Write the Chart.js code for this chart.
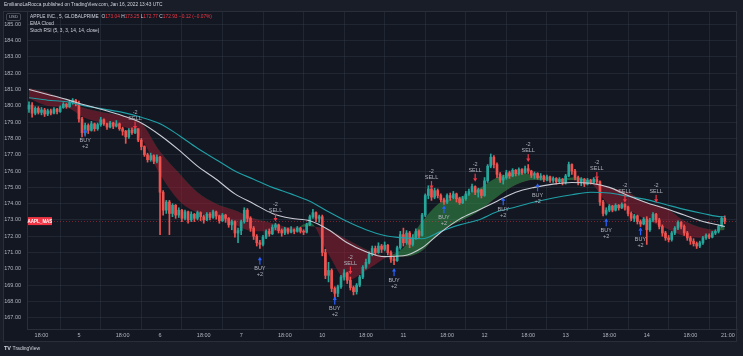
<!DOCTYPE html>
<html><head><meta charset="utf-8">
<script src="https://cdn.jsdelivr.net/npm/chart.js@4.4.1/dist/chart.umd.min.js"></script>
<style>
html,body{margin:0;padding:0;background:#191d28;overflow:hidden;}
#wrap{position:relative;width:743px;height:356px;background:#191d28;}
#frame{position:absolute;left:3px;top:11px;width:734px;height:331px;background:#131722;border:1px solid #2a2e39;box-sizing:border-box;}
canvas{position:absolute;left:0;top:0;}
.t{position:absolute;font-family:"Liberation Sans",Arial,sans-serif;white-space:nowrap;line-height:1;color:#d1d4dc;}
.r{color:#f23645;}
</style></head><body>
<div id="wrap">
<div id="frame"></div>
<canvas id="c" width="743" height="356"></canvas>
<div class="t" style="left:4px;top:3px;font-size:4.8px;">EmilianoLaRocca published on TradingView.com, Jan 16, 2022 13:43 UTC</div>
<div class="t" style="left:6px;top:13px;font-size:4.3px;border:1px solid #434651;padding:1px 2px;border-radius:2px;color:#b2b5be;">USD</div>
<div class="t" style="left:30px;top:15px;font-size:4.8px;">APPLE INC., 5, GLOBALPRIME&nbsp; O<span class="r">173.04</span> H<span class="r">173.25</span> L<span class="r">172.77</span> C<span class="r">172.93</span> <span class="r">−0.12 (−0.07%)</span></div>
<div class="t" style="left:30px;top:22px;font-size:4.8px;">EMA Cloud</div>
<div class="t" style="left:30px;top:29px;font-size:4.8px;">Stoch RSI (5, 3, 3, 14, 14, close)</div>
<div class="t" style="left:4px;top:346px;font-size:5.5px;font-weight:bold;color:#d1d4dc;">TV <span style="font-weight:normal;font-size:5px">TradingView</span></div>
</div>
<script>
// ---- Data (15-minute candles, index 0 = Jan 4 17:00, session 14:30-21:00) ----
const opens = [
179.8,180.05,179.55,179.85,179.6,179.75,179.5,179.7,179.55,179.8,179.65,179.9,180.1,179.95,180.2,180.35,
180.15,179.2,178.35,178.8,178.5,178.9,178.6,178.85,179.15,178.9,178.7,178.95,178.75,178.9,178.6,178.45,178.1,178.5,178.35,178.6,177.9,177.5,177.0,176.7,176.95,176.6,
176.85,174.7,173.6,174.1,173.4,173.9,173.3,173.6,173.1,173.5,173.0,173.35,173.1,173.45,173.2,173.0,173.35,173.15,173.5,173.25,172.95,173.3,173.1,172.7,172.9,172.2,
172.35,172.9,173.6,173.1,172.5,172.0,171.6,171.5,171.95,172.3,172.15,172.55,172.7,172.35,172.2,172.45,172.25,172.4,172.3,172.5,172.3,172.25,172.7,173.2,173.45,173.1,
173.2,171.0,169.6,169.9,168.8,168.5,168.9,169.5,169.75,169.3,168.85,168.6,169.0,169.5,170.1,170.4,170.9,171.25,171.0,171.4,171.2,171.45,171.0,170.6,170.5,171.3,
172.1,171.6,172.2,171.5,171.9,172.3,172.05,173.3,174.5,174.9,174.4,174.8,174.5,174.25,174.1,174.5,174.35,174.6,174.3,174.05,174.3,174.6,174.75,175.05,174.7,174.85,
174.5,175.4,176.3,176.85,176.4,175.8,175.45,175.6,175.9,175.7,176.05,175.85,176.1,175.9,176.15,176.0,175.75,175.85,175.6,175.7,175.5,175.65,175.45,175.55,175.35,175.5,
175.3,175.7,176.4,176.0,175.6,175.3,175.5,175.2,175.45,175.3,175.5,175.35,174.1,173.4,173.6,173.85,173.6,173.9,173.75,173.95,173.8,173.4,173.1,173.25,172.9,172.75,
173.05,172.4,173.0,173.35,173.0,172.6,172.2,171.9,171.8,172.2,172.5,172.85,172.6,172.2,171.9,171.7,171.55,171.4,171.6,171.9,172.05,171.95,172.2,172.3,172.6,173.1
];
const highs = [
180.25,180.2,179.95,179.95,179.9,179.85,179.8,179.8,179.9,179.85,180.0,180.2,180.15,180.3,180.45,180.4,
180.3,179.3,178.95,178.9,179.05,178.95,178.95,179.3,179.2,178.95,179.05,179.0,179.1,178.95,178.7,178.5,178.6,178.65,178.75,178.6,178.0,177.55,177.1,177.1,177.0,177.0,
176.9,174.8,174.2,174.2,174.0,173.95,173.75,173.65,173.6,173.55,173.5,173.4,173.55,173.5,173.3,173.45,173.45,173.6,173.55,173.3,173.4,173.35,173.15,173.0,172.95,172.5,
173.0,173.75,173.7,173.2,172.6,172.1,171.75,172.05,172.4,172.45,172.7,172.8,172.75,172.45,172.55,172.5,172.6,172.45,172.6,172.55,172.4,172.8,173.3,173.65,173.5,173.3,
173.3,171.2,170.4,170.0,168.9,169.0,169.6,169.95,169.8,169.5,168.95,169.1,169.6,170.2,170.6,171.05,171.4,171.4,171.6,171.5,171.65,171.5,171.1,170.75,171.4,172.3,
172.5,172.35,172.3,172.1,172.45,172.4,173.4,174.6,175.1,175.0,174.95,174.9,174.6,174.35,174.6,174.65,174.75,174.65,174.4,174.45,174.75,174.9,175.2,175.1,174.95,174.9,
175.6,176.4,177.05,176.95,176.5,175.9,175.75,176.05,176.0,176.15,176.1,176.2,176.15,176.3,176.4,176.05,175.95,175.9,175.85,175.75,175.75,175.7,175.65,175.6,175.6,175.55,
175.8,176.55,176.45,176.1,175.7,175.6,175.55,175.55,175.5,175.6,175.6,175.4,174.2,173.75,173.95,173.9,174.0,173.95,174.05,174.0,173.85,173.5,173.35,173.3,173.0,173.15,
173.2,173.1,173.45,173.4,173.1,172.7,172.3,172.05,172.3,172.6,172.95,172.9,172.7,172.3,172.0,171.85,171.65,171.7,172.0,172.15,172.15,172.3,172.4,172.7,173.2,173.25
];
const lows = [
179.6,179.3,179.45,179.5,179.45,179.35,179.4,179.45,179.5,179.5,179.6,179.85,179.85,179.9,180.1,180.0,
179.0,178.1,178.2,178.3,178.45,178.45,178.5,178.75,178.8,178.55,178.65,178.6,178.7,178.5,178.2,177.7,178.0,178.25,178.3,177.8,177.3,176.9,176.55,176.6,176.45,176.5,
172.1,173.3,173.4,172.1,173.2,173.1,173.15,172.9,173.0,172.8,172.9,172.9,173.0,172.95,172.8,172.95,173.0,173.1,173.05,172.8,172.9,172.85,172.55,172.4,171.95,171.6,
172.1,172.8,172.9,172.3,171.8,171.4,171.25,171.4,171.85,172.0,172.1,172.4,172.2,172.0,172.1,172.15,172.2,172.15,172.25,172.2,172.1,172.2,172.65,173.1,172.9,172.85,
170.8,169.4,169.2,168.6,168.1,168.3,168.8,169.3,169.1,168.7,168.4,168.45,168.9,169.4,170.0,170.3,170.8,170.85,170.95,171.0,171.1,170.85,170.4,170.25,170.45,171.2,
171.4,171.5,171.3,171.4,171.8,171.9,172.0,173.2,174.3,174.2,174.3,174.35,174.1,173.95,174.0,174.2,174.3,174.1,173.95,174.0,174.2,174.5,174.7,174.55,174.4,174.35,
174.45,175.3,176.2,176.2,175.6,175.3,175.2,175.5,175.55,175.65,175.7,175.75,175.8,175.85,175.85,175.6,175.55,175.5,175.45,175.35,175.4,175.3,175.3,175.2,175.25,175.15,
175.2,175.65,175.8,175.45,175.15,175.1,175.05,175.15,175.2,175.25,175.2,173.9,173.25,173.3,173.5,173.5,173.55,173.6,173.7,173.6,173.25,172.95,172.9,172.75,172.6,172.7,
171.5,172.3,172.9,172.85,172.45,172.0,171.75,171.65,171.7,172.1,172.4,172.45,172.05,171.75,171.5,171.4,171.25,171.3,171.5,171.8,171.85,171.9,172.1,172.2,172.55,172.77
];
const closes = [
180.05,179.55,179.85,179.6,179.75,179.5,179.7,179.55,179.8,179.65,179.9,180.1,179.95,180.2,180.35,180.15,
179.2,178.35,178.8,178.5,178.9,178.6,178.85,179.15,178.9,178.7,178.95,178.75,178.9,178.6,178.45,178.1,178.5,178.35,178.6,177.9,177.5,177.0,176.7,176.95,176.6,176.85,
174.7,173.6,174.1,173.4,173.9,173.3,173.6,173.1,173.5,173.0,173.35,173.1,173.45,173.2,173.0,173.35,173.15,173.5,173.25,172.95,173.3,173.1,172.7,172.9,172.2,172.35,
172.9,173.6,173.1,172.5,172.0,171.6,171.5,171.95,172.3,172.15,172.55,172.7,172.35,172.2,172.45,172.25,172.4,172.3,172.5,172.3,172.25,172.7,173.2,173.45,173.1,173.2,
171.0,169.6,169.9,168.8,168.5,168.9,169.5,169.75,169.3,168.85,168.6,169.0,169.5,170.1,170.4,170.9,171.25,171.0,171.4,171.2,171.45,171.0,170.6,170.5,171.3,172.1,
171.6,172.2,171.5,171.9,172.3,172.05,173.3,174.5,174.9,174.4,174.8,174.5,174.25,174.1,174.5,174.35,174.6,174.3,174.05,174.3,174.6,174.75,175.05,174.7,174.85,174.5,
175.4,176.3,176.85,176.4,175.8,175.45,175.6,175.9,175.7,176.05,175.85,176.1,175.9,176.15,176.0,175.75,175.85,175.6,175.7,175.5,175.65,175.45,175.55,175.35,175.5,175.3,
175.7,176.4,176.0,175.6,175.3,175.5,175.2,175.45,175.3,175.5,175.35,174.1,173.4,173.6,173.85,173.6,173.9,173.75,173.95,173.8,173.4,173.1,173.25,172.9,172.75,173.05,
172.4,173.0,173.35,173.0,172.6,172.2,171.9,171.8,172.2,172.5,172.85,172.6,172.2,171.9,171.7,171.55,171.4,171.6,171.9,172.05,171.95,172.2,172.3,172.6,173.1,172.93
];
// indicator lines, read at these candle indexes
const lineIdx   = [0,6,12,18,24,30,36,42,48,54,60,66,72,78,84,90,96,102,108,114,120,126,132,138,144,150,156,162,168,174,180,186,192,198,204,210,216,222,223];
const emaWhite  = [181.0,180.7,180.4,180.05,179.75,179.4,178.95,178.2,177.3,176.3,175.5,174.6,174.0,173.4,173.1,172.95,172.4,171.6,171.05,170.75,170.8,171.3,172.25,173.05,173.6,174.15,174.7,175.0,175.2,175.3,175.25,175.0,174.5,174.05,173.7,173.3,172.9,172.65,172.6];
const emaTeal   = [180.5,180.35,180.25,180.0,179.8,179.6,179.3,178.9,178.2,177.4,176.7,176.0,175.5,175.0,174.6,174.15,173.5,172.9,172.4,172.05,171.9,171.85,172.3,172.7,173.0,173.5,173.8,174.1,174.35,174.55,174.7,174.65,174.45,174.25,173.95,173.65,173.4,173.2,173.2];
const cloudFast = [180.45,180.0,179.9,179.25,178.95,178.75,178.0,175.8,174.2,173.45,173.2,172.7,172.3,172.3,172.35,172.85,170.9,169.3,169.9,170.65,171.3,172.9,174.1,174.4,174.9,175.6,175.9,175.75,175.45,175.6,175.3,173.9,173.6,173.0,172.5,172.0,171.9,172.6,172.7];
const cloudSlow = [181.1,180.8,180.35,179.85,179.6,179.4,178.95,177.2,175.9,174.7,174.0,173.6,173.1,172.8,172.55,172.6,172.4,171.8,171.2,170.8,170.75,171.1,172.3,172.9,173.5,174.4,175.15,175.45,175.4,175.45,175.35,175.0,174.7,174.05,173.75,172.95,172.5,172.35,172.4];
// signals
const sellIdx   = [34,79,103,129,143,160,182,191,201];
const sellPrice = [178.55,172.9,169.65,174.9,175.35,176.55,175.45,174.05,174.05];
const buyIdx    = [18,74,98,117,133,152,163,185,196];
const buyPrice  = [178.6,170.75,168.3,170.05,173.9,174.4,175.25,173.1,172.55];
// x-axis ticks
const tickIdx    = [4,16,30,42,56,68,82,94,108,120,134,146,160,172,186,198,212,224];
const tickLabels = ['18:00','5','18:00','6','18:00','7','18:00','10','18:00','11','18:00','12','18:00','13','18:00','14','18:00','21:00'];
const lastPrice = 172.93;
const symbolTag = 'AAPL_MAS';

// ---- Build datasets ----
const UP = '#26a69a', DOWN = '#ef5350';
const wickData = highs.map((h,i)=>({x:i, y:[lows[i], h]}));
const bodyData = closes.map((c,i)=>({x:i, y:[opens[i], c]}));
const candleColor = ctx => { const i = ctx.dataIndex; return closes[i] >= opens[i] ? UP : DOWN; };
const pts = arr => arr.map((v,k)=>({x:lineIdx[k], y:v}));
const FONT = '"Liberation Sans", Arial, sans-serif';

const overlay = {
  id:'overlay',
  beforeDatasetsDraw(chart){
    const {ctx, chartArea:a, scales:{y}} = chart;
    const py = Math.round(y.getPixelForValue(lastPrice))+0.5;
    ctx.save();
    ctx.strokeStyle = 'rgba(242,54,69,0.45)';
    ctx.setLineDash([1,2]);
    ctx.lineWidth = 1;
    ctx.beginPath(); ctx.moveTo(a.left, py); ctx.lineTo(a.right, py); ctx.stroke();
    ctx.restore();
  },
  afterDatasetsDraw(chart){
    const {ctx, chartArea:a, scales:{x,y}} = chart;
    ctx.save();
    ctx.font = '5.5px ' + FONT;
    ctx.textAlign = 'center'; ctx.textBaseline = 'middle';
    sellIdx.forEach((idx,k)=>{
      const px = x.getPixelForValue(idx), py = y.getPixelForValue(sellPrice[k]);
      ctx.fillStyle = '#f23645';
      ctx.fillRect(px-0.6, py-8, 1.2, 5);
      ctx.beginPath(); ctx.moveTo(px-2, py-3.5); ctx.lineTo(px+2, py-3.5); ctx.lineTo(px, py); ctx.closePath(); ctx.fill();
      ctx.fillStyle = '#b2b5be';
      ctx.fillText('SELL', px, py-11.5);
      ctx.fillText('-2', px, py-17.5);
    });
    buyIdx.forEach((idx,k)=>{
      const px = x.getPixelForValue(idx), py = y.getPixelForValue(buyPrice[k]);
      ctx.fillStyle = '#2962ff';
      ctx.fillRect(px-0.6, py+3, 1.2, 5);
      ctx.beginPath(); ctx.moveTo(px-2, py+3.5); ctx.lineTo(px+2, py+3.5); ctx.lineTo(px, py); ctx.closePath(); ctx.fill();
      ctx.fillStyle = '#b2b5be';
      ctx.fillText('BUY', px, py+12);
      ctx.fillText('+2', px, py+18);
    });
    // symbol tag
    const ty = y.getPixelForValue(lastPrice);
    ctx.fillStyle = '#f23645';
    ctx.fillRect(a.left+1, ty-4, 24, 8);
    ctx.fillStyle = '#ffffff';
    ctx.font = 'bold 4.5px ' + FONT;
    ctx.fillText(symbolTag, a.left+13, ty+0.3);
    ctx.restore();
  }
};

new Chart(document.getElementById('c'), {
  type: 'bar',
  data: { datasets: [
    { type:'line', label:'cloudSlow', data: pts(cloudSlow), borderWidth:0, borderColor:'rgba(0,0,0,0)', pointRadius:0, tension:0.4, cubicInterpolationMode:'monotone', fill:false, order:5 },
    { type:'line', label:'cloudFast', data: pts(cloudFast), borderWidth:0, borderColor:'rgba(0,0,0,0)', pointRadius:0, tension:0.4, cubicInterpolationMode:'monotone',
      fill:{ target:0, above:'rgba(52,150,72,0.55)', below:'rgba(160,30,50,0.5)' }, order:4 },
    { type:'line', label:'EMA white', data: pts(emaWhite), borderWidth:1.1, borderColor:'#c9ccd4', pointRadius:0, cubicInterpolationMode:'monotone', fill:false, order:0 },
    { type:'line', label:'EMA teal', data: pts(emaTeal), borderWidth:1.1, borderColor:'#1f9fa6', pointRadius:0, cubicInterpolationMode:'monotone', fill:false, order:0 },
    { label:'wicks', data: wickData, backgroundColor: candleColor, barThickness:1, grouped:false, order:2 },
    { label:'bodies', data: bodyData, backgroundColor: candleColor, barThickness:2, minBarLength:1, grouped:false, order:1 }
  ]},
  options: {
    responsive:false, animation:false, devicePixelRatio:1,
    layout:{ padding:{ left:3, right:6, top:12, bottom:13 } },
    plugins:{ legend:{display:false}, tooltip:{enabled:false}, filler:{ drawTime:'beforeDatasetsDraw', propagate:false } },
    scales:{
      x:{ type:'linear', min:-0.64, max:226.92, offset:false,
          afterBuildTicks: s => { s.ticks = tickIdx.map(v=>({value:v})); },
          afterFit: s => { s.height = 14; },
          ticks:{ autoSkip:false, maxRotation:0, padding:3, color:'#b2b5be', font:{size:5.5, family:FONT},
                  callback: v => { const k = tickIdx.indexOf(v); return k >= 0 ? tickLabels[k] : ''; } },
          grid:{ color:'rgba(60,66,84,0.35)', drawTicks:false },
          border:{ color:'#2a2e39' } },
      y:{ position:'left', min:166.31, max:185.76,
          afterFit: s => { s.width = 24; },
          ticks:{ stepSize:1, includeBounds:false, autoSkip:false, padding:6, color:'#b2b5be', font:{size:5.5, family:FONT},
                  callback: v => Number(v).toFixed(2) },
          grid:{ color:'rgba(60,66,84,0.35)', drawTicks:false },
          border:{ color:'#2a2e39' } }
    }
  },
  plugins:[overlay]
});
</script>
</body></html>
